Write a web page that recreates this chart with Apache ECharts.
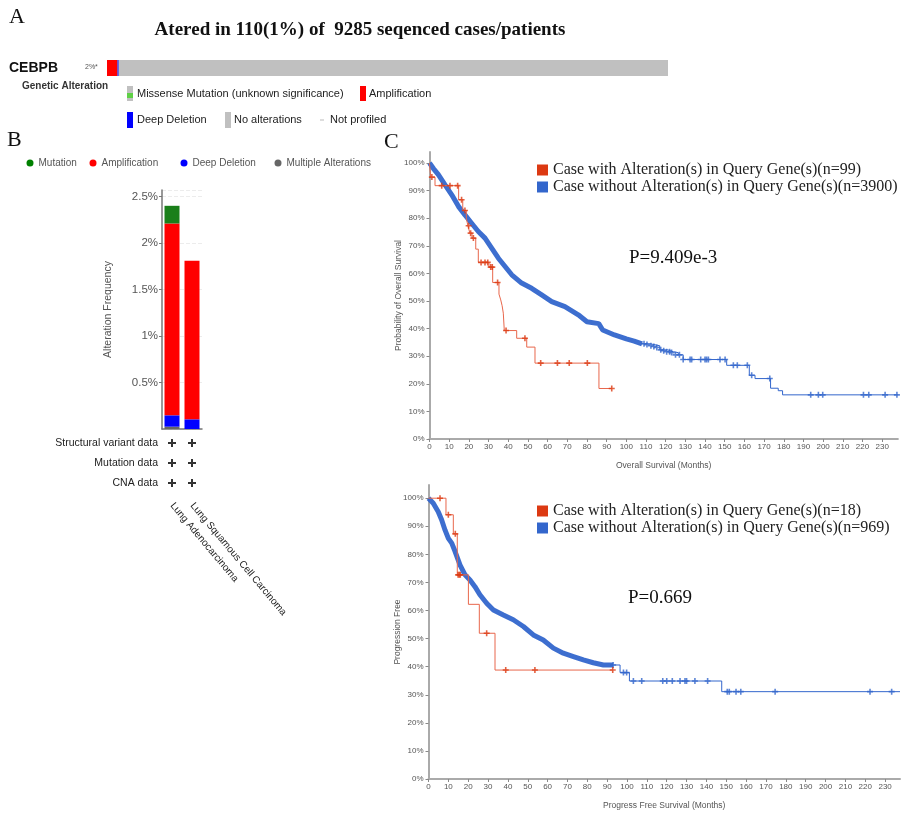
<!DOCTYPE html>
<html><head><meta charset="utf-8">
<script src="https://cdn.jsdelivr.net/npm/echarts@6/dist/echarts.min.js"></script>
<style>html,body{margin:0;padding:0;background:#fff}#c{width:902px;height:815px}</style>
</head><body><div id="c"></div><script>
// ---------- Panel A: oncoprint row ----------
const oncoGene = ['CEBPB'];
const oncoAmp = [1.85];
const oncoDeep = [0.25];
const oncoNone = [97.9];

// ---------- Panel B: alteration frequency ----------
const cancerTypes = ['Lung Adenocarcinoma', 'Lung Squamous Cell Carcinoma'];
const freqMultiple = [0.025, 0];
const freqDeep = [0.122, 0.104];
const freqAmp = [2.063, 1.706];
const freqMut = [0.19, 0];
const profileRows = ['CNA data', 'Mutation data', 'Structural variant data'];

// ---------- Panel C top: overall survival ----------
const osAltTime = [0, 0.6, 2.8, 14.8, 16.9, 18.7, 19.5, 20.5, 21.6, 23.5, 24.8, 30.2, 32.1, 35.3, 36.2, 36.9, 37.5, 38.0, 44.3, 49.4, 53.6, 86.1, 92.6];
const osAltSurv = [100, 94.9, 91.8, 86.7, 82.8, 80.0, 77.3, 74.6, 72.8, 68.8, 64.0, 62.3, 56.7, 52.5, 50.4, 48.3, 45.6, 39.3, 36.5, 33.3, 27.5, 18.3, 18.3];
const osAltCensorTime = [1.2, 6.2, 10.4, 14.3, 16.3, 18.0, 19.9, 20.9, 22.3, 26.2, 28.2, 29.6, 31.1, 31.9, 34.6, 38.9, 48.5, 56.5, 65.0, 71.0, 80.2, 92.6];
const osAltCensorSurv = [94.9, 91.8, 91.8, 91.8, 86.7, 82.8, 77.3, 74.6, 72.8, 64.0, 64.0, 64.0, 62.3, 62.3, 56.7, 39.3, 36.5, 27.5, 27.5, 27.5, 27.5, 18.3];
const osUnDenseTime = [0, 2, 4.5, 7.9, 11.3, 14.7, 18, 21.4, 24.8, 28.2, 31.6, 35, 38.4, 41.8, 46.8, 51.9, 57, 62.1, 68.8, 75.6, 80, 86, 88, 94, 100, 104, 108];
const osUnDenseSurv = [100, 98, 95.8, 92.1, 88.5, 84.3, 81.2, 78.2, 75.2, 72.8, 69.2, 65.5, 62.5, 59.5, 56.5, 54.6, 52.2, 49.8, 48, 45, 42.5, 41.8, 39.5, 37.7, 36.3, 35.5, 34.5];
const osUnTime = [108, 112, 117, 121, 124, 126.4, 128.9, 151, 162.5, 165.4, 173.3, 177.2, 179.4, 238];
const osUnSurv = [34.5, 33.8, 32.3, 31.6, 31.3, 30.5, 28.8, 26.7, 23.1, 21.9, 18.4, 17.5, 16.0, 16.0];
const osUnCensorTime = [109, 110.5, 112.5, 114, 115.5, 117.5, 119, 120.5, 122, 123, 125, 127, 128.9, 132.4, 133.2, 137.8, 140, 140.8, 141.7, 147.6, 150.2, 154.4, 156.4, 161.5, 163.7, 172.9, 193.7, 197.6, 199.8, 220.5, 223.2, 231.5, 237.5];
const osUnCensorSurv = [34.5, 34.2, 33.8, 33.5, 33.2, 32.3, 32.0, 31.6, 31.6, 31.3, 30.5, 30.5, 28.8, 28.8, 28.8, 28.8, 28.8, 28.8, 28.8, 28.8, 28.8, 26.7, 26.7, 26.7, 23.1, 21.9, 16.0, 16.0, 16.0, 16.0, 16.0, 16.0, 16.0];

// ---------- Panel C bottom: progression free ----------
const pfsAltTime = [0, 8.8, 12.5, 14.5, 20.1, 25.6, 33.5, 92.8];
const pfsAltSurv = [100, 94.1, 87.3, 72.7, 62.2, 51.9, 38.8, 38.8];
const pfsAltCensorTime = [5.8, 10, 13.5, 14.9, 15.5, 16, 29.3, 38.9, 53.6, 92.8];
const pfsAltCensorSurv = [100, 94.1, 87.3, 72.7, 72.7, 72.7, 51.9, 38.8, 38.8, 38.8];
const pfsUnDenseTime = [0, 2.4, 4.9, 6.6, 8.3, 10, 11.7, 13.4, 15.9, 18.4, 20.9, 23.4, 25.9, 29.3, 32.7, 37.7, 42.7, 47.8, 52.8, 57.8, 62.9, 67.9, 73, 78, 83, 88.1, 93];
const pfsUnDenseSurv = [100, 98.2, 95.2, 92.3, 88.7, 85.7, 84, 81, 76.2, 72.7, 70.9, 68.5, 65.6, 62.6, 60.2, 58.4, 56.7, 54.3, 51.3, 49.5, 46.6, 44.8, 43.6, 42.4, 41.4, 40.6, 40.6];
const pfsUnTime = [93, 96.5, 101.2, 147.7, 237.5];
const pfsUnSurv = [40.6, 37.9, 34.9, 31.1, 31.1];
const pfsUnCensorTime = [93, 98.2, 99.8, 103.2, 107.4, 118, 120, 122.8, 126.7, 129.2, 130, 134.2, 140.6, 150.5, 151.5, 154.9, 157.3, 174.6, 222.4, 233.3];
const pfsUnCensorSurv = [40.6, 37.9, 37.9, 34.9, 34.9, 34.9, 34.9, 34.9, 34.9, 34.9, 34.9, 34.9, 34.9, 31.1, 31.1, 31.1, 31.1, 31.1, 31.1, 31.1];

const osNames = ['Case with Alteration(s) in Query Gene(s)(n=99)', 'Case without Alteration(s) in Query Gene(s)(n=3900)'];
const pfsNames = ['Case with Alteration(s) in Query Gene(s)(n=18)', 'Case without Alteration(s) in Query Gene(s)(n=969)'];

// ---------- build ----------
const zip = (a, b) => a.map((v, i) => [v, b[i]]);
const SANS = '"Liberation Sans", Arial, sans-serif';
const SERIF = '"Liberation Serif", "Times New Roman", serif';
const RED = '#dc3912', BLUE = '#3366cc';
const plusPath = 'path://M2.2,0H3.8V2.2H6V3.8H3.8V6H2.2V3.8H0V2.2H2.2Z';

function kmX(grid, max, name) {
  return {
    type: 'value', gridIndex: grid, min: 0, max: max, interval: 10,
    axisLine: { show: true, lineStyle: { color: '#aaa', width: 2 } },
    axisTick: { show: true, length: 3, lineStyle: { color: '#888' } },
    axisLabel: { fontSize: 8, color: '#555', margin: 4, fontFamily: SANS, showMaxLabel: false },
    splitLine: { show: false },
    name: name, nameLocation: 'middle', nameGap: 22, nameMoveOverlap: false,
    nameTextStyle: { fontSize: 8.5, color: '#555', fontFamily: SANS }
  };
}
function kmY(grid, max, name) {
  return {
    type: 'value', gridIndex: grid, min: 0, max: max, interval: 10,
    axisLine: { show: true, lineStyle: { color: '#aaa', width: 2 } },
    axisTick: { show: true, length: 3, lineStyle: { color: '#888' } },
    axisLabel: { fontSize: 8, color: '#555', margin: 5, fontFamily: SANS, showMaxLabel: false, formatter: v => v + '%' },
    splitLine: { show: false },
    name: name, nameLocation: 'middle', nameGap: 26, nameMoveOverlap: false,
    nameTextStyle: { fontSize: 8.5, color: '#555', fontFamily: SANS }
  };
}
function kmSeries(ax, names, altT, altS, altCT, altCS, denseT, denseS, unT, unS, unCT, unCS) {
  return [
    { name: names[1], type: 'line', xAxisIndex: ax, yAxisIndex: ax, data: zip(denseT, denseS), showSymbol: false, symbol: 'none',
      lineStyle: { color: BLUE, width: 5, opacity: 0.95 }, itemStyle: { color: BLUE }, silent: true, z: 2 },
    { name: names[1], type: 'line', xAxisIndex: ax, yAxisIndex: ax, data: zip(unT, unS), step: 'end', showSymbol: false, symbol: 'none',
      lineStyle: { color: BLUE, width: 1 }, itemStyle: { color: BLUE }, silent: true, z: 2 },
    { name: names[1], type: 'scatter', xAxisIndex: ax, yAxisIndex: ax, data: zip(unCT, unCS), symbol: plusPath, symbolSize: 6,
      itemStyle: { color: BLUE }, silent: true, z: 3 },
    { name: names[0], type: 'line', xAxisIndex: ax, yAxisIndex: ax, data: zip(altT, altS), step: 'end', showSymbol: false, symbol: 'none',
      lineStyle: { color: '#e8674c', width: 1 }, itemStyle: { color: RED }, silent: true, z: 4 },
    { name: names[0], type: 'scatter', xAxisIndex: ax, yAxisIndex: ax, data: zip(altCT, altCS), symbol: plusPath, symbolSize: 6,
      itemStyle: { color: RED }, silent: true, z: 5 }
  ];
}
function kmLegend(top, names) {
  return {
    orient: 'vertical', left: 537, top: top, padding: 0, itemWidth: 11, itemHeight: 11, itemGap: 0, icon: 'rect',
    selectedMode: false,
    textStyle: { fontFamily: SERIF, fontSize: 16, color: '#222', lineHeight: 17 },
    data: [{ name: names[0], itemStyle: { color: RED } }, { name: names[1], itemStyle: { color: BLUE } }]
  };
}
function dotLegend(left, name, color) {
  return {
    left: left, top: 158, padding: 0, itemWidth: 7, itemHeight: 7, icon: 'circle', selectedMode: false,
    textStyle: { fontFamily: SANS, fontSize: 10, color: '#555' },
    data: [{ name: name, itemStyle: { color: color } }]
  };
}
function txt(text, x, y, font, fill, align) {
  return { type: 'text', silent: true, style: { text: text, x: x, y: y, font: font, fill: fill || '#222', align: align || 'left', verticalAlign: 'middle' } };
}
function box(x, y, w, h, fill) {
  return { type: 'rect', silent: true, shape: { x: x, y: y, width: w, height: h }, style: { fill: fill } };
}

const option = {
  backgroundColor: '#fff',
  animation: false,
  textStyle: { fontFamily: SANS },
  legend: [
    dotLegend(26.5, 'Mutation', '#008000'),
    dotLegend(89.5, 'Amplification', '#ff0000'),
    dotLegend(180.5, 'Deep Deletion', '#0000ff'),
    dotLegend(274.5, 'Multiple Alterations', '#666666'),
    kmLegend(161.5, osNames), kmLegend(502.5, pfsNames)
  ],
  grid: [
    { left: 107, top: 60, width: 561, height: 16 },
    { left: 162, top: 190, width: 40, height: 239 },
    { left: 162, top: 433, width: 40, height: 60 },
    { left: 429.5, top: 152, width: 468.4, height: 287 },
    { left: 428.5, top: 485, width: 471.5, height: 294 }
  ],
  xAxis: [
    { type: 'value', gridIndex: 0, min: 0, max: 100, show: false },
    { type: 'category', gridIndex: 1, data: cancerTypes,
      axisLine: { show: true, lineStyle: { color: '#777', width: 1.5 } }, axisTick: { show: false }, axisLabel: { show: false } },
    { type: 'category', gridIndex: 2, data: cancerTypes,
      axisLine: { show: false }, axisTick: { show: false },
      axisLabel: { interval: 0, rotate: -50, margin: 11, fontSize: 10, color: '#222', fontFamily: SANS } },
    kmX(3, 238, 'Overall Survival (Months)'),
    kmX(4, 237.5, 'Progress Free Survival (Months)')
  ],
  yAxis: [
    { type: 'category', gridIndex: 0, data: oncoGene, axisLine: { show: false }, axisTick: { show: false },
      axisLabel: { margin: 49, fontSize: 14, fontWeight: 'bold', color: '#111', fontFamily: SANS } },
    { type: 'value', gridIndex: 1, min: 0, max: 2.57, interval: 0.5,
      axisLine: { show: true, lineStyle: { color: '#777', width: 1.5 } },
      axisTick: { show: true, length: 3, lineStyle: { color: '#777' } },
      axisLabel: { fontSize: 11.5, color: '#555', margin: 4, showMinLabel: false, showMaxLabel: false, formatter: v => v + '%', fontFamily: SANS },
      splitLine: { show: true, lineStyle: { color: '#ececec', type: 'dashed' } },
      name: 'Alteration Frequency', nameLocation: 'middle', nameGap: 48,
      nameTextStyle: { fontSize: 10.5, color: '#555', fontFamily: SANS } },
    { type: 'category', gridIndex: 2, data: profileRows, axisLine: { show: false }, axisTick: { show: false },
      axisLabel: { margin: 4, fontSize: 10.5, color: '#222', fontFamily: SANS } },
    kmY(3, 104, 'Probability of Overall Survival'),
    kmY(4, 104.7, 'Progression Free')
  ],
  series: [
    { name: 'CEBPB amplification', type: 'bar', xAxisIndex: 0, yAxisIndex: 0, stack: 'onco', data: oncoAmp, barWidth: 16, itemStyle: { color: '#ff0000' }, silent: true },
    { name: 'CEBPB deep deletion', type: 'bar', xAxisIndex: 0, yAxisIndex: 0, stack: 'onco', data: oncoDeep, barWidth: 16, itemStyle: { color: '#2020e0' }, silent: true },
    { name: 'CEBPB no alteration', type: 'bar', xAxisIndex: 0, yAxisIndex: 0, stack: 'onco', data: oncoNone, barWidth: 16, itemStyle: { color: '#c0c0c0' }, silent: true },

    { name: 'Multiple Alterations', type: 'bar', xAxisIndex: 1, yAxisIndex: 1, stack: 'freq', data: freqMultiple, barWidth: 15, itemStyle: { color: '#666666' }, silent: true },
    { name: 'Deep Deletion', type: 'bar', xAxisIndex: 1, yAxisIndex: 1, stack: 'freq', data: freqDeep, barWidth: 15, itemStyle: { color: '#0000ff' }, silent: true },
    { name: 'Amplification', type: 'bar', xAxisIndex: 1, yAxisIndex: 1, stack: 'freq', data: freqAmp, barWidth: 15, itemStyle: { color: '#ff0000' }, silent: true },
    { name: 'Mutation', type: 'bar', xAxisIndex: 1, yAxisIndex: 1, stack: 'freq', data: freqMut, barWidth: 15, itemStyle: { color: '#1a7f1a' }, silent: true },

    { name: 'profiled', type: 'scatter', xAxisIndex: 2, yAxisIndex: 2, symbol: 'path://M3,0H5V3H8V5H5V8H3V5H0V3H3Z', symbolSize: 8,
      itemStyle: { color: '#000' }, silent: true,
      data: cancerTypes.flatMap(c => profileRows.map(r => [c, r])) }
  ]
    .concat(kmSeries(3, osNames, osAltTime, osAltSurv, osAltCensorTime, osAltCensorSurv, osUnDenseTime, osUnDenseSurv, osUnTime, osUnSurv, osUnCensorTime, osUnCensorSurv))
    .concat(kmSeries(4, pfsNames, pfsAltTime, pfsAltSurv, pfsAltCensorTime, pfsAltCensorSurv, pfsUnDenseTime, pfsUnDenseSurv, pfsUnTime, pfsUnSurv, pfsUnCensorTime, pfsUnCensorSurv)),
  graphic: [
    txt('A', 9, 17, '22px ' + SERIF, '#111'),
    txt('Atered in 110(1%) of  9285 seqenced cases/patients', 360, 30, 'bold 19px ' + SERIF, '#111', 'center'),
    txt('2%*', 85, 67, '7px ' + SANS, '#555'),
    txt('Genetic Alteration', 22, 86, 'bold 10px ' + SANS, '#333'),
    box(127, 86, 6, 15, '#c0c0c0'), box(127, 93, 6, 5, '#5fd046'),
    txt('Missense Mutation (unknown significance)', 137, 94, '11px ' + SANS, '#222'),
    box(360, 86, 6, 15, '#ff0000'),
    txt('Amplification', 369, 94, '11px ' + SANS, '#222'),
    box(127, 112, 6, 16, '#0000ff'),
    txt('Deep Deletion', 137, 120, '11px ' + SANS, '#222'),
    box(225, 112, 6, 16, '#c0c0c0'),
    txt('No alterations', 234, 120, '11px ' + SANS, '#222'),
    box(320, 119.5, 4, 1, '#bbb'),
    txt('Not profiled', 330, 120, '11px ' + SANS, '#222'),
    txt('B', 7, 140, '22px ' + SERIF, '#111'),
    txt('C', 384, 142, '22px ' + SERIF, '#111'),
    txt('P=9.409e-3', 629, 258, '19px ' + SERIF, '#111'),
    txt('P=0.669', 628, 598, '19px ' + SERIF, '#111')
  ]
};
const chart = echarts.init(document.getElementById('c'));
chart.setOption(option);
</script></body></html>
